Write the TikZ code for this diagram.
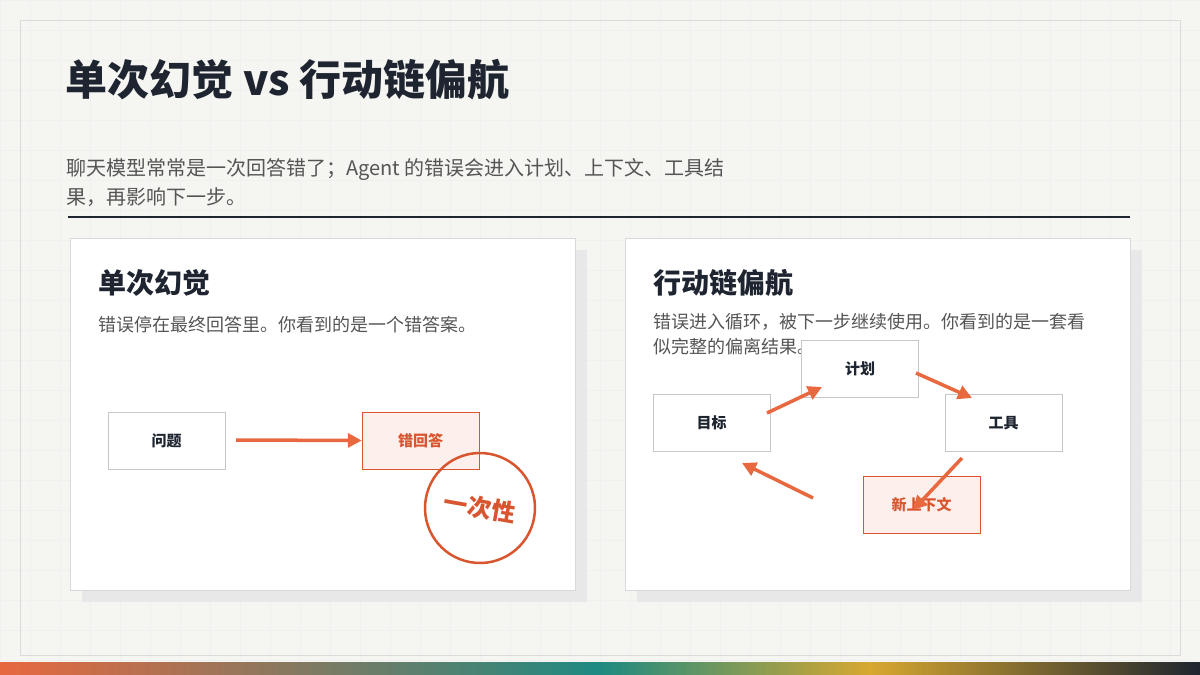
\documentclass[tikz,border=0pt]{standalone}
\usepackage{fontspec}
\setmainfont{Noto Sans CJK SC}
\usetikzlibrary{positioning,arrows.meta}
\definecolor{ink}{HTML}{1E2530}
\definecolor{txt}{HTML}{555555}
\definecolor{hot}{HTML}{E8683F}
\definecolor{stampc}{HTML}{D9552F}
\definecolor{paper}{HTML}{F5F5F2}
\tikzset{
  card/.style={draw=black!15, fill=white, line width=0.8pt},
  shadow/.style={fill=black!9, draw=none},
  box/.style={draw=black!22, fill=white, minimum width=117pt, minimum height=57pt, font=\bfseries\fontsize{15}{15}\selectfont, text=ink},
  badbox/.style={box, draw=stampc, fill=hot!10, text=stampc},
  flow/.style={-{Triangle[length=14pt,width=14pt]}, hot, line width=3.5pt},
}
\begin{document}
\begin{tikzpicture}[x=1pt,y=-1pt]
\useasboundingbox (0,0) rectangle (1200,675);
\fill[paper] (0,0) rectangle (1200,675);
% background grid
\foreach \gx in {0,30,...,1200} \draw[black!6,line width=0.6pt] (\gx,0) -- (\gx,660);
\foreach \gy in {0,30,...,660} \draw[black!6,line width=0.6pt] (0,\gy) -- (1200,\gy);
\draw[black!14] (20,20) rectangle (1180,655);
% gradient bar
\shade[left color=hot, right color={rgb,255:red,30;green,138;blue,130}] (0,662) rectangle (600,675);
\shade[left color={rgb,255:red,30;green,138;blue,130}, right color={rgb,255:red,216;green,168;blue,48}] (599.5,662) rectangle (870,675);
\shade[left color={rgb,255:red,216;green,168;blue,48}, right color=ink] (869.5,662) rectangle (1200,675);
% heading
\node[anchor=west, text=ink, font=\bfseries\fontsize{42}{42}\selectfont] (title) at (62,80) {单次幻觉 vs 行动链偏航};
\node[anchor=north west, text=txt, font=\fontsize{20}{29}\selectfont, inner sep=0pt, align=left] (lead) at (66,158) {聊天模型常常是一次回答错了；Agent 的错误会进入计划、上下文、工具结\\果，再影响下一步。};
\draw[ink, line width=2.5pt] (68,217) -- (1130,217);
% left card
\fill[shadow] (82,250) rectangle (587,602);
\draw[card] (70,238) rectangle (575,590);
\node[anchor=west, text=ink, font=\bfseries\fontsize{28}{28}\selectfont] (lt) at (95,283) {单次幻觉};
\node[anchor=west, text=txt, font=\fontsize{18}{18}\selectfont] (ls) at (95,325) {错误停在最终回答里。你看到的是一个错答案。};
\node[box] (q) at (166.5,440.5) {问题};
\node[badbox] (a) at (420.5,440.5) {错回答};
\draw[flow] (236,440) -- (a.west);
\node[circle, draw=stampc, line width=2.5pt, minimum size=110pt, rotate=-10, text=stampc, font=\bfseries\fontsize{24}{24}\selectfont] (stamp) at (480,508) {一次性};
% right card
\fill[shadow] (637,250) rectangle (1142,602);
\draw[card] (625,238) rectangle (1130,590);
\node[anchor=west, text=ink, font=\bfseries\fontsize{28}{28}\selectfont] (rt) at (650,283) {行动链偏航};
\node[anchor=north west, text=txt, font=\fontsize{18}{25}\selectfont, inner sep=0pt, align=left] (rs) at (653,313) {错误进入循环，被下一步继续使用。你看到的是一套看\\似完整的偏离结果。};
\node[box] (goal) at (711.5,423) {目标};
\node[box] (plan) at (860,369) {计划};
\node[box] (tool) at (1003.5,423) {工具};
\node[badbox] (ctx) at (921.5,505) {新上下文};
\coordinate (g1) at (767,413); \coordinate (p1) at (822,387);
\coordinate (p2) at (916,373); \coordinate (t1) at (972,398);
\coordinate (t2) at (962,458); \coordinate (c1) at (913,510);
\coordinate (c2) at (813,498); \coordinate (g2) at (742,463);
\draw[flow] (g1) -- (p1);
\draw[flow] (p2) -- (t1);
\draw[flow] (t2) -- (c1);
\draw[flow] (c2) -- (g2);
\end{tikzpicture}
\end{document}
